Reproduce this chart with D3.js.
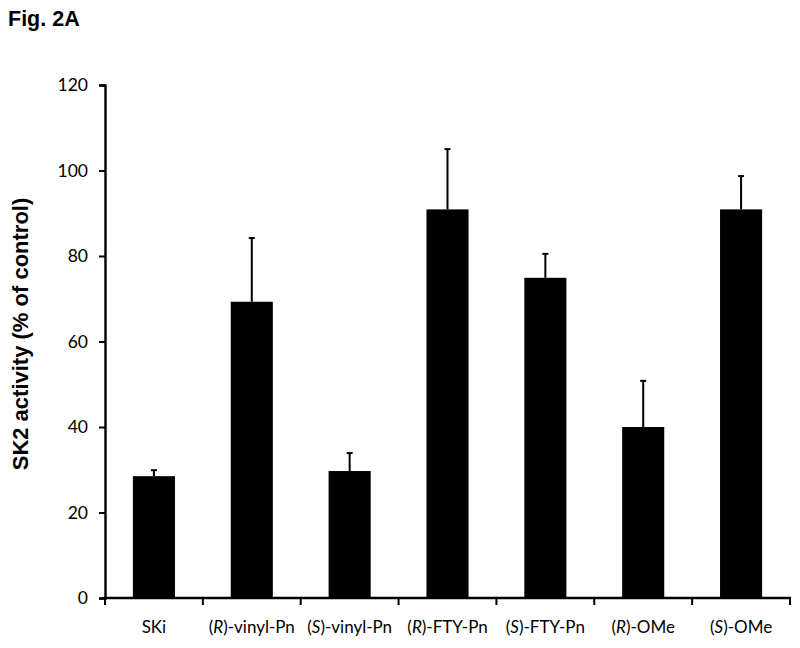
<!DOCTYPE html>
<html><head><meta charset="utf-8">
<script src="https://cdn.jsdelivr.net/npm/d3@7"></script>
<style>body{margin:0;background:#fff}</style>
</head><body>
<svg id="c" width="800" height="648"></svg>
<script>
const categories = [["","SKi"],["R","-vinyl-Pn"],["S","-vinyl-Pn"],["R","-FTY-Pn"],["S","-FTY-Pn"],["R","-OMe"],["S","-OMe"]];
const labels = ["SKi","(R)-vinyl-Pn","(S)-vinyl-Pn","(R)-FTY-Pn","(S)-FTY-Pn","(R)-OMe","(S)-OMe"];
const values = [28.5, 69.3, 29.7, 90.9, 74.9, 40.0, 90.9];
const errors = [1.4, 14.9, 4.2, 14.1, 5.6, 10.8, 7.8];
const yTicks = [0,20,40,60,80,100,120];

const svg = d3.select("#c");
const x = d3.scaleBand().domain(labels).range([105,790]).padding(0);
const y = d3.scaleLinear().domain([0,120]).range([598,85]);
const bw = x.bandwidth()*0.43;

svg.append("text").attr("x",8).attr("y",26).attr("font-family","Liberation Sans, Arial").attr("font-weight","bold").attr("font-size",21.5).text("Fig. 2A");

// bars
svg.selectAll("rect.bar").data(labels).enter().append("rect")
  .attr("x",d=>x(d)+x.bandwidth()/2-bw/2).attr("width",bw)
  .attr("y",(d,i)=>y(values[i])).attr("height",(d,i)=>y(0)-y(values[i])).attr("fill","#000");

// error bars
const eg = svg.append("g").attr("stroke","#000").attr("stroke-width",2);
labels.forEach((d,i)=>{
  const cx = x(d)+x.bandwidth()/2;
  eg.append("line").attr("x1",cx).attr("x2",cx).attr("y1",y(values[i])).attr("y2",y(values[i]+errors[i]));
  eg.append("line").attr("x1",cx-3).attr("x2",cx+3).attr("y1",y(values[i]+errors[i])).attr("y2",y(values[i]+errors[i]));
});

// y axis
const ya = svg.append("g").attr("transform","translate(105,0)")
  .call(d3.axisLeft(y).tickValues(yTicks).tickSize(6).tickPadding(11));
ya.select(".domain").attr("stroke-width",2.4);
ya.selectAll(".tick line").attr("stroke-width",2);
ya.selectAll("text").attr("font-family","Lato, Open Sans, sans-serif").attr("font-size",17.5).attr("fill","#000");

// x axis
const xa = svg.append("g").attr("transform","translate(0,598)")
  .call(d3.axisBottom(x).tickValues([]).tickSizeOuter(0));
xa.select(".domain").attr("stroke-width",2.4).attr("d","M104,0H791");
const bounds = labels.map(d=>x(d)).concat([790]);
xa.selectAll("line.b").data(bounds).enter().append("line").attr("class","b")
  .attr("x1",d=>d).attr("x2",d=>d).attr("y1",0).attr("y2",7).attr("stroke","#000").attr("stroke-width",2);

// category labels
const tl = svg.append("g");
categories.forEach((c,i)=>{
  const t = tl.append("text").attr("x",x(labels[i])+x.bandwidth()/2).attr("y",633)
    .attr("text-anchor","middle").attr("font-family","Lato, Open Sans, sans-serif").attr("font-size",17).attr("fill","#000");
  if(c[0]===""){ t.text(c[1]); }
  else {
    t.append("tspan").text("(");
    t.append("tspan").attr("font-style","italic").text(c[0]);
    t.append("tspan").text(")"+c[1]);
  }
});

// y title
svg.append("text").attr("transform","translate(28,334) rotate(-90)").attr("text-anchor","middle")
  .attr("font-family","Liberation Sans, Arial").attr("font-weight","bold").attr("font-size",22).text("SK2 activity (% of control)");
</script>
</body></html>
